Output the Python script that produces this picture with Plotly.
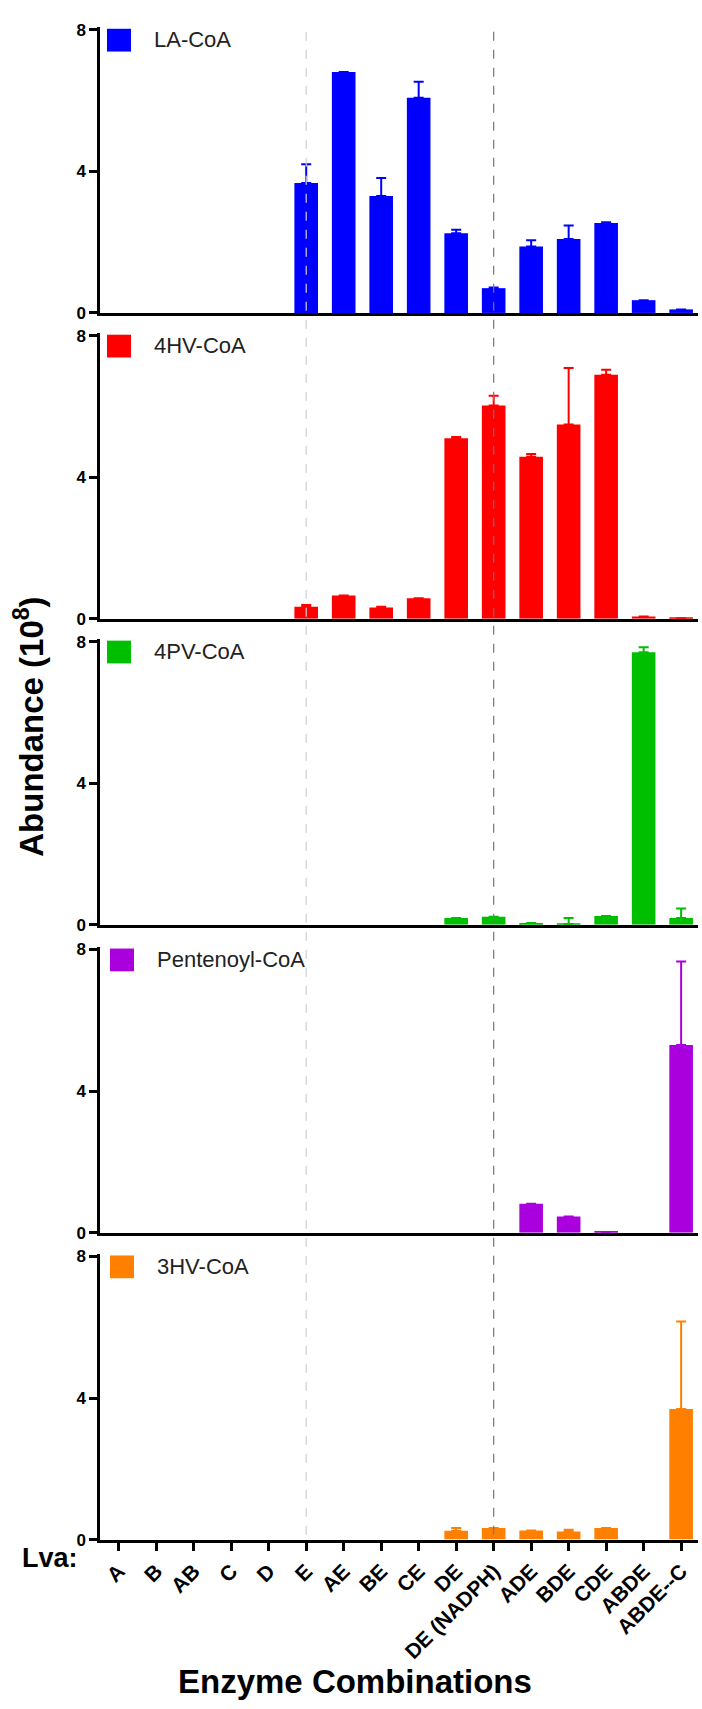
import plotly.graph_objects as go

categories = ["A", "B", "AB", "C", "D", "E", "AE", "BE", "CE", "DE",
              "DE (NADPH)", "ADE", "BDE", "CDE", "ABDE", "ABDE--C"]

N = None  # no error bar drawn

la_coa = [0, 0, 0, 0, 0, 3.67, 6.81, 3.30, 6.08, 2.25, 0.70, 1.88, 2.09, 2.54, 0.36, 0.10]
la_coa_err = [N, N, N, N, N, 0.53, N, 0.51, 0.45, 0.10, 0.02, 0.17, 0.38, 0.02, N, N]

hv4_coa = [0, 0, 0, 0, 0, 0.34, 0.66, 0.32, 0.58, 5.10, 6.03, 4.58, 5.49, 6.90, 0.07, 0.02]
hv4_coa_err = [N, N, N, N, N, 0.05, N, 0.02, N, 0.04, 0.27, 0.08, 1.60, 0.14, N, N]

pv4_coa = [0, 0, 0, 0, 0, 0, 0, 0, 0, 0.19, 0.23, 0.05, 0.02, 0.25, 7.70, 0.19]
pv4_coa_err = [N, N, N, N, N, N, N, N, N, N, N, N, 0.17, N, 0.14, 0.27]

pentenoyl_coa = [0, 0, 0, 0, 0, 0, 0, 0, 0, 0, 0, 0.82, 0.46, 0.02, 0, 5.30]
pentenoyl_coa_err = [N, N, N, N, N, N, N, N, N, N, N, N, N, N, N, 2.36]

hv3_coa = [0, 0, 0, 0, 0, 0, 0, 0, 0, 0.25, 0.33, 0.26, 0.23, 0.33, 0, 3.69]
hv3_coa_err = [N, N, N, N, N, N, N, N, N, 0.08, N, N, 0.05, N, N, 2.47]

series_names = ["LA-CoA", "4HV-CoA", "4PV-CoA", "Pentenoyl-CoA", "3HV-CoA"]
series_values = [la_coa, hv4_coa, pv4_coa, pentenoyl_coa, hv3_coa]
series_errors = [la_coa_err, hv4_coa_err, pv4_coa_err, pentenoyl_coa_err, hv3_coa_err]
colors = ["#0000FF", "#FF0000", "#00BE00", "#AA00DD", "#FF8000"]

y_ticks = [0, 4, 8]

W, H = 702, 1709
FONT = "Arial, Liberation Sans, sans-serif"

# pixel layout
x_left, x_right = 100, 698
zeros_px = [309, 618, 927, 1238, 1548]
unit_px = 35.75
y_top_val = 8.07


def py(px):
    return 1 - px / H


fig = go.Figure()
shapes = []
annotations = []

for i, (name, vals, errs, col) in enumerate(zip(series_names, series_values, series_errors, colors)):
    k = i + 1
    xa = "x" if k == 1 else f"x{k}"
    ya = "y" if k == 1 else f"y{k}"
    cats = [c for c, v in zip(categories, vals) if v > 0]
    ys = [v for v in vals if v > 0]
    es = [e for e, v in zip(errs, vals) if v > 0]
    fig.add_trace(go.Bar(
        x=cats, y=ys, xaxis=xa, yaxis=ya,
        marker=dict(color=col, line=dict(width=0)),
        width=0.63, showlegend=False,
        error_y=dict(type="data", symmetric=False, array=es,
                     arrayminus=[0] * len(es), color=col,
                     thickness=2, width=5),
    ))
    z = zeros_px[i]
    top = z - y_top_val * unit_px
    last = (k == 5)
    fig.layout[f"xaxis{'' if k == 1 else k}"] = dict(
        domain=[x_left / W, x_right / W], anchor=ya,
        type="category", categoryorder="array", categoryarray=categories,
        range=[-0.5, 15.45],
        showline=True, linecolor="black", linewidth=3,
        ticks="outside" if last else "", ticklen=8, tickwidth=2.5, tickcolor="black",
        showticklabels=last, tickangle=-45,
        tickfont=dict(family=FONT, size=21, color="black", weight="bold"),
        showgrid=False, zeroline=False,
        tickmode="array", tickvals=categories, ticktext=categories,
        **({} if k == 1 else {"matches": "x"}),
    )
    fig.layout[f"yaxis{'' if k == 1 else k}"] = dict(
        domain=[py(z), py(top)], anchor=xa,
        range=[0, y_top_val], tickvals=y_ticks,
        showline=True, linecolor="black", linewidth=2.5,
        ticks="outside", ticklen=8, tickwidth=2.5, tickcolor="black",
        tickfont=dict(family=FONT, size=17, color="black", weight="bold"),
        showgrid=False, zeroline=False,
    )
    # legend swatch + label
    t8 = z - 8 * unit_px
    sx0 = 107 if k <= 3 else 110
    shapes.append(dict(type="rect", xref="paper", yref="paper",
                       x0=sx0 / W, x1=(sx0 + 24) / W, y0=py(t8 + 22), y1=py(t8 - 1),
                       fillcolor=col, line=dict(width=0)))
    annotations.append(dict(text=name, xref="paper", yref="paper",
                            x=(sx0 + 45) / W, y=py(t8 + 10), xanchor="left", yanchor="middle",
                            showarrow=False, font=dict(family=FONT, size=22, color="#222")))

# vertical dashed reference lines at E and DE (NADPH)
shapes.append(dict(type="line", xref="x5", yref="paper", x0="E", x1="E",
                   y0=py(1543), y1=py(24), layer="above",
                   line=dict(color="#cfcfcf", width=1.2, dash="dash")))
shapes.append(dict(type="line", xref="x5", yref="paper", x0="DE (NADPH)", x1="DE (NADPH)",
                   y0=py(1543), y1=py(24), layer="above",
                   line=dict(color="#777777", width=1.2, dash="dash")))

annotations.append(dict(text="Abundance (10<sup>8</sup>)", xref="paper", yref="paper",
                        x=29 / W, y=py(727), textangle=-90, showarrow=False,
                        xanchor="center", yanchor="middle",
                        font=dict(family=FONT, size=33, color="black", weight="bold")))
annotations.append(dict(text="Lva:", xref="paper", yref="paper",
                        x=50 / W, y=py(1567), showarrow=False,
                        xanchor="center", yanchor="middle",
                        font=dict(family=FONT, size=27, color="black", weight="bold")))
annotations.append(dict(text="Enzyme Combinations", xref="paper", yref="paper",
                        x=355 / W, y=py(1691), showarrow=False,
                        xanchor="center", yanchor="middle",
                        font=dict(family=FONT, size=33, color="black", weight="bold")))

fig.update_layout(
    width=W, height=H, margin=dict(l=0, r=0, t=0, b=0),
    paper_bgcolor="white", plot_bgcolor="white",
    shapes=shapes, annotations=annotations, bargap=0.37,
)

fig.write_html("out.html")
